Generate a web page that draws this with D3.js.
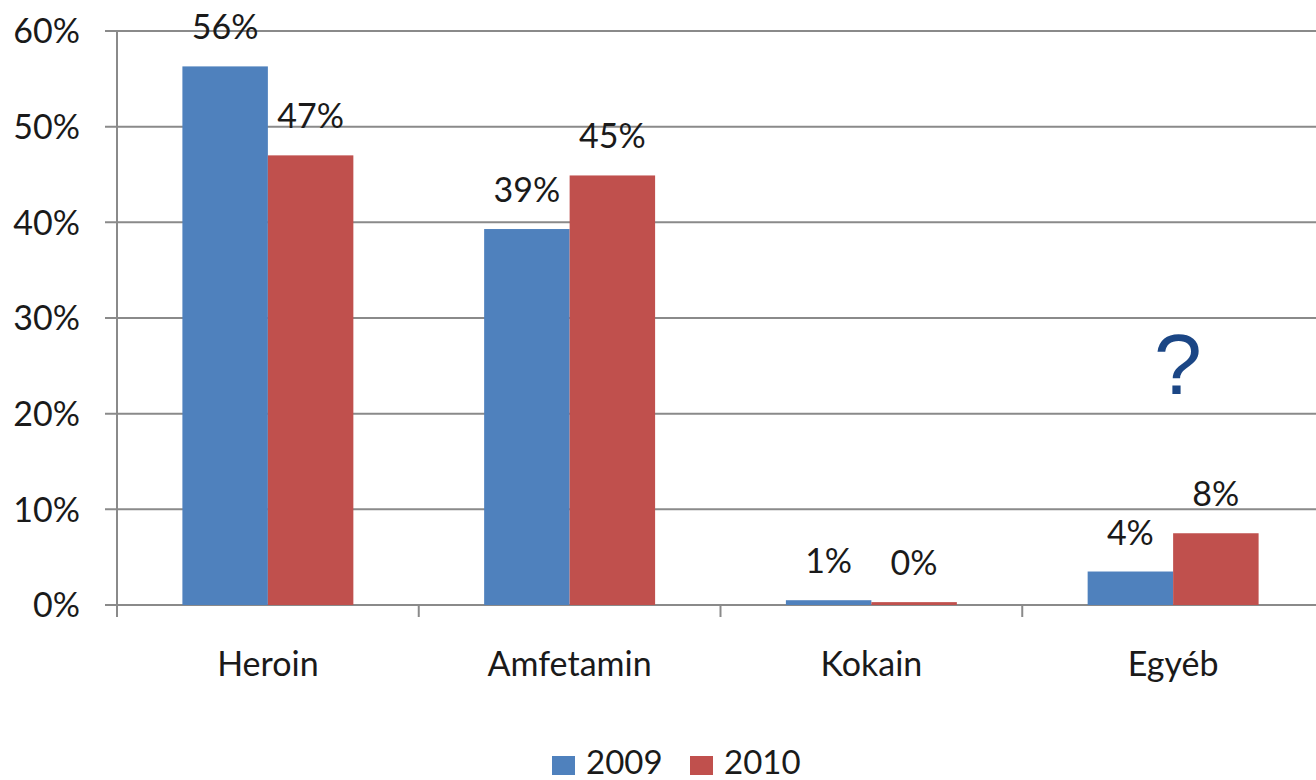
<!DOCTYPE html>
<html>
<head>
<meta charset="utf-8">
<script src="https://cdn.jsdelivr.net/npm/d3@7"></script>
<style>
  body { margin: 0; background: #fff; }
  text { font-family: Lato, "Open Sans", sans-serif; fill: #1a1a1a; }
</style>
</head>
<body>
<div id="grafica"></div>
<script>
// datos
var categorias = ["Heroin", "Amfetamin", "Kokain", "Egyéb"];
var series = ["2009", "2010"];
var valores2009 = [56.3, 39.3, 0.5, 3.5];
var valores2010 = [47.0, 44.9, 0.3, 7.5];
var ticksY = [0, 10, 20, 30, 40, 50, 60];
var colores = ["#4F81BD", "#C0504D"];

var width = 1316, height = 780;
var svg = d3.select("#grafica").append("svg")
    .attr("width", width)
    .attr("height", height);

var datos = categorias.map(function(c, i) {
    return { cat: c, vals: [valores2009[i], valores2010[i]] };
});

var x = d3.scaleBand().domain(categorias).range([117, 1324]).paddingInner(0).paddingOuter(0);
var x1 = d3.scaleBand().domain(series).range([0, x.bandwidth()]).paddingInner(0).paddingOuter(0.765);
var y = d3.scaleLinear().domain([0, 60]).range([605, 31]);

// lineas de la cuadricula
svg.append("g")
    .selectAll("line")
    .data(ticksY)
    .enter().append("line")
    .attr("x1", 105).attr("x2", width)
    .attr("y1", function(d) { return y(d); })
    .attr("y2", function(d) { return y(d); })
    .attr("stroke", "#8a8a8a")
    .attr("stroke-width", 2);

// eje Y
svg.append("line")
    .attr("x1", 117).attr("x2", 117)
    .attr("y1", y(60)).attr("y2", 617)
    .attr("stroke", "#8a8a8a").attr("stroke-width", 2);

svg.append("g")
    .selectAll("text")
    .data(ticksY)
    .enter().append("text")
    .attr("x", 80)
    .attr("y", function(d) { return y(d); })
    .attr("dy", "0.36em")
    .attr("text-anchor", "end")
    .style("font-size", "34px")
    .text(function(d) { return d + "%"; });

// marcas del eje X
var bordes = categorias.map(function(c) { return x(c); }).concat([x.range()[1]]);
svg.append("g")
    .selectAll("line")
    .data(bordes)
    .enter().append("line")
    .attr("x1", function(d) { return d; })
    .attr("x2", function(d) { return d; })
    .attr("y1", 605).attr("y2", 617)
    .attr("stroke", "#8a8a8a").attr("stroke-width", 2);

// barras
var grupos = svg.append("g")
    .selectAll("g")
    .data(datos)
    .enter().append("g")
    .attr("transform", function(d) { return "translate(" + x(d.cat) + ",0)"; });

grupos.selectAll("rect")
    .data(function(d) { return d.vals.map(function(v, i) { return { s: series[i], v: v, i: i }; }); })
    .enter().append("rect")
    .attr("x", function(d) { return x1(d.s); })
    .attr("width", x1.bandwidth())
    .attr("y", function(d) { return y(d.v); })
    .attr("height", function(d) { return y(0) - y(d.v); })
    .attr("fill", function(d) { return colores[d.i]; });

grupos.selectAll("text")
    .data(function(d) { return d.vals.map(function(v, i) { return { s: series[i], v: v }; }); })
    .enter().append("text")
    .attr("x", function(d) { return x1(d.s) + x1.bandwidth() / 2; })
    .attr("y", function(d) { return y(d.v) - 27; })
    .attr("text-anchor", "middle")
    .style("font-size", "34px")
    .text(function(d) { return Math.round(d.v) + "%"; });

// etiquetas de categorias
svg.append("g")
    .selectAll("text")
    .data(categorias)
    .enter().append("text")
    .attr("x", function(d) { return x(d) + x.bandwidth() / 2; })
    .attr("y", 676)
    .attr("text-anchor", "middle")
    .style("font-size", "34px")
    .text(function(d) { return d; });

// signo de interrogacion
svg.append("text")
    .attr("x", 1178)
    .attr("y", 394)
    .attr("text-anchor", "middle")
    .style("font-family", "'Liberation Sans', Arial, sans-serif")
    .style("font-size", "86px")
    .style("fill", "#1B4685")
    .text("?");

// leyenda
var leyenda = svg.append("g")
    .selectAll("g")
    .data(series)
    .enter().append("g")
    .attr("transform", function(d, i) { return "translate(" + (552 + i * 138) + ",0)"; });

leyenda.append("rect")
    .attr("x", 0).attr("y", 756)
    .attr("width", 23).attr("height", 19)
    .attr("fill", function(d, i) { return colores[i]; });

leyenda.append("text")
    .attr("x", 34).attr("y", 774)
    .style("font-size", "33px")
    .text(function(d) { return d; });
</script>
</body>
</html>
